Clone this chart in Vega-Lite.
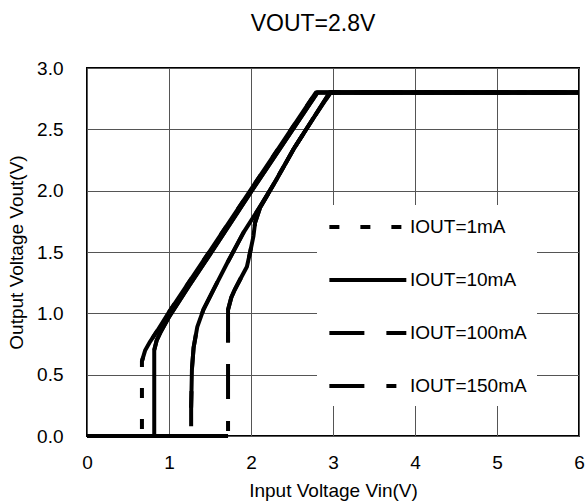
{
  "$schema": "https://vega.github.io/schema/vega-lite/v6.json",
  "width": 492,
  "height": 368,
  "autosize": {"type": "none"},
  "padding": {"left": 87, "top": 68, "right": 8, "bottom": 66},
  "background": "white",
  "title": {
    "text": "VOUT=2.8V",
    "fontSize": 23,
    "font": "Liberation Sans",
    "fontWeight": "normal",
    "color": "black",
    "anchor": "middle",
    "dx": -20,
    "offset": 23
  },
  "config": {
    "view": {"stroke": "black", "strokeWidth": 2},
    "font": "Liberation Sans",
    "axis": {
      "domain": false,
      "ticks": false,
      "grid": true,
      "gridColor": "#555555",
      "gridWidth": 1,
      "gridOpacity": 1,
      "labelFont": "Liberation Sans",
      "labelFontSize": 19,
      "labelColor": "black",
      "titleFont": "Liberation Sans",
      "titleFontSize": 19,
      "titleFontWeight": "normal",
      "titleColor": "black"
    }
  },
  "data": {
    "values": [
      {"s": "IOUT=1mA", "seg": "flat", "vin": 0, "vout": 0},
      {"s": "IOUT=1mA", "seg": "flat", "vin": 0.67, "vout": 0},
      {"s": "IOUT=1mA", "seg": "curve", "vin": 0.67, "vout": 0.61},
      {"s": "IOUT=1mA", "seg": "curve", "vin": 0.71, "vout": 0.70},
      {"s": "IOUT=1mA", "seg": "curve", "vin": 0.77, "vout": 0.77},
      {"s": "IOUT=1mA", "seg": "curve", "vin": 0.85, "vout": 0.85},
      {"s": "IOUT=1mA", "seg": "curve", "vin": 1.0, "vout": 1.01},
      {"s": "IOUT=1mA", "seg": "curve", "vin": 1.25, "vout": 1.26},
      {"s": "IOUT=1mA", "seg": "curve", "vin": 1.5, "vout": 1.51},
      {"s": "IOUT=1mA", "seg": "curve", "vin": 1.75, "vout": 1.76},
      {"s": "IOUT=1mA", "seg": "curve", "vin": 2.0, "vout": 2.01},
      {"s": "IOUT=1mA", "seg": "curve", "vin": 2.25, "vout": 2.26},
      {"s": "IOUT=1mA", "seg": "curve", "vin": 2.5, "vout": 2.51},
      {"s": "IOUT=1mA", "seg": "curve", "vin": 2.79, "vout": 2.8},
      {"s": "IOUT=1mA", "seg": "curve", "vin": 6, "vout": 2.8},

      {"s": "IOUT=10mA", "seg": "flat", "vin": 0, "vout": 0},
      {"s": "IOUT=10mA", "seg": "flat", "vin": 0.82, "vout": 0},
      {"s": "IOUT=10mA", "seg": "curve", "vin": 0.82, "vout": 0.70},
      {"s": "IOUT=10mA", "seg": "curve", "vin": 0.85, "vout": 0.78},
      {"s": "IOUT=10mA", "seg": "curve", "vin": 0.9, "vout": 0.85},
      {"s": "IOUT=10mA", "seg": "curve", "vin": 1.0, "vout": 0.97},
      {"s": "IOUT=10mA", "seg": "curve", "vin": 1.25, "vout": 1.23},
      {"s": "IOUT=10mA", "seg": "curve", "vin": 1.5, "vout": 1.48},
      {"s": "IOUT=10mA", "seg": "curve", "vin": 2.0, "vout": 1.99},
      {"s": "IOUT=10mA", "seg": "curve", "vin": 2.5, "vout": 2.49},
      {"s": "IOUT=10mA", "seg": "curve", "vin": 2.81, "vout": 2.8},
      {"s": "IOUT=10mA", "seg": "curve", "vin": 6, "vout": 2.8},

      {"s": "IOUT=100mA", "seg": "flat", "vin": 0, "vout": 0},
      {"s": "IOUT=100mA", "seg": "flat", "vin": 1.27, "vout": 0},
      {"s": "IOUT=100mA", "seg": "curve", "vin": 1.27, "vout": 0.23},
      {"s": "IOUT=100mA", "seg": "curve", "vin": 1.28, "vout": 0.55},
      {"s": "IOUT=100mA", "seg": "curve", "vin": 1.30, "vout": 0.72},
      {"s": "IOUT=100mA", "seg": "curve", "vin": 1.345, "vout": 0.89},
      {"s": "IOUT=100mA", "seg": "curve", "vin": 1.42, "vout": 1.03},
      {"s": "IOUT=100mA", "seg": "curve", "vin": 1.54, "vout": 1.19},
      {"s": "IOUT=100mA", "seg": "curve", "vin": 1.71, "vout": 1.41},
      {"s": "IOUT=100mA", "seg": "curve", "vin": 1.91, "vout": 1.66},
      {"s": "IOUT=100mA", "seg": "curve", "vin": 2.12, "vout": 1.88},
      {"s": "IOUT=100mA", "seg": "curve", "vin": 2.32, "vout": 2.10},
      {"s": "IOUT=100mA", "seg": "curve", "vin": 2.52, "vout": 2.34},
      {"s": "IOUT=100mA", "seg": "curve", "vin": 2.75, "vout": 2.58},
      {"s": "IOUT=100mA", "seg": "curve", "vin": 2.96, "vout": 2.8},
      {"s": "IOUT=100mA", "seg": "curve", "vin": 6, "vout": 2.8},

      {"s": "IOUT=150mA", "seg": "flat", "vin": 0, "vout": 0},
      {"s": "IOUT=150mA", "seg": "flat", "vin": 1.72, "vout": 0},
      {"s": "IOUT=150mA", "seg": "curve", "vin": 1.72, "vout": 0.76},
      {"s": "IOUT=150mA", "seg": "curve", "vin": 1.72, "vout": 1.03},
      {"s": "IOUT=150mA", "seg": "curve", "vin": 1.76, "vout": 1.13},
      {"s": "IOUT=150mA", "seg": "curve", "vin": 1.80, "vout": 1.19},
      {"s": "IOUT=150mA", "seg": "curve", "vin": 1.87, "vout": 1.28},
      {"s": "IOUT=150mA", "seg": "curve", "vin": 1.95, "vout": 1.38},
      {"s": "IOUT=150mA", "seg": "curve", "vin": 1.99, "vout": 1.50},
      {"s": "IOUT=150mA", "seg": "curve", "vin": 2.03, "vout": 1.63},
      {"s": "IOUT=150mA", "seg": "curve", "vin": 2.05, "vout": 1.74},
      {"s": "IOUT=150mA", "seg": "curve", "vin": 2.11, "vout": 1.86},
      {"s": "IOUT=150mA", "seg": "curve", "vin": 2.24, "vout": 2.01},
      {"s": "IOUT=150mA", "seg": "curve", "vin": 2.52, "vout": 2.34},
      {"s": "IOUT=150mA", "seg": "curve", "vin": 2.75, "vout": 2.58},
      {"s": "IOUT=150mA", "seg": "curve", "vin": 2.97, "vout": 2.8},
      {"s": "IOUT=150mA", "seg": "curve", "vin": 6, "vout": 2.8}
    ]
  },
  "encoding": {
    "x": {
      "field": "vin",
      "type": "quantitative",
      "scale": {"domain": [0, 6], "nice": false, "zero": false},
      "axis": {
        "title": "Input Voltage Vin(V)",
        "values": [0, 1, 2, 3, 4, 5, 6],
        "format": "d",
        "labelPadding": 17,
        "titlePadding": 9,
        "labelFlush": false
      }
    },
    "y": {
      "field": "vout",
      "type": "quantitative",
      "scale": {"domain": [0, 3], "nice": false, "zero": false},
      "axis": {
        "title": "Output Voltage Vout(V)",
        "values": [0, 0.5, 1, 1.5, 2, 2.5, 3],
        "format": ".1f",
        "labelPadding": 24,
        "titlePadding": 10,
        "labelFlush": false
      }
    },
    "order": [{"field": "vin", "type": "quantitative"}, {"field": "vout", "type": "quantitative"}]
  },
  "layer": [
    {
      "mark": {"type": "line", "color": "black", "strokeWidth": 4, "strokeCap": "butt", "strokeJoin": "miter"},
      "encoding": {
        "strokeDash": {
          "field": "s",
          "type": "nominal",
          "scale": {
            "domain": ["IOUT=1mA", "IOUT=10mA", "IOUT=100mA", "IOUT=150mA"],
            "range": [[10, 21], [1, 0], [35, 22], [35, 22, 10, 22]]
          },
          "legend": {
            "title": null,
            "orient": "none",
            "legendX": 230,
            "legendY": 137,
            "fillColor": "white",
            "padding": 10,
            "symbolType": "M-1,0H7",
            "symbolSize": 370,
            "symbolStrokeWidth": 4,
            "symbolStrokeColor": "black",
            "labelFont": "Liberation Sans",
            "labelFontSize": 19,
            "labelColor": "black",
            "labelOffset": 59,
            "rowPadding": 31
          }
        }
      }
    },
    {
      "mark": {"type": "line", "color": "black", "strokeWidth": 4, "strokeCap": "butt", "strokeJoin": "round"},
      "encoding": {
        "detail": [{"field": "s", "type": "nominal"}, {"field": "seg", "type": "nominal"}]
      }
    }
  ]
}
